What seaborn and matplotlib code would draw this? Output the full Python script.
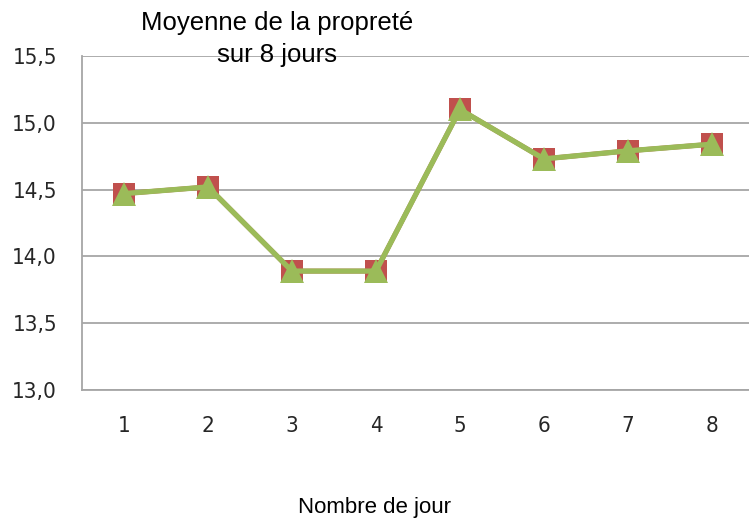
import pandas as pd
import seaborn as sns
import matplotlib.pyplot as plt
from matplotlib.ticker import FixedLocator

# données
jours = [1, 2, 3, 4, 5, 6, 7, 8]
proprete_a = [14.47, 14.52, 13.89, 13.89, 15.10, 14.73, 14.79, 14.84]
proprete_b = [14.47, 14.52, 13.89, 13.89, 15.10, 14.73, 14.79, 14.84]
y_ticks = [13.0, 13.5, 14.0, 14.5, 15.0, 15.5]

sns.set_style("white")
plt.rcParams["font.family"] = ["Liberation Sans", "DejaVu Sans"]

df = pd.DataFrame({"jour": jours, "a": proprete_a, "b": proprete_b})

fig = plt.figure(figsize=(7.49, 5.22), dpi=100)
ax = fig.add_axes([0.1095, 0.2529, 0.897, 0.6398])

grid_col = "#a6a6a6"
for y in y_ticks:
    ax.axhline(y, color=grid_col, lw=1.3, zorder=0)

sns.lineplot(data=df, x="jour", y="a", ax=ax, color="#c0504d", lw=3.5,
             marker="s", markersize=15.5, markeredgewidth=0, zorder=2)
sns.lineplot(data=df, x="jour", y="b", ax=ax, color="#9bbb59", lw=3.8,
             marker="^", markersize=17, markeredgewidth=0, zorder=3)

ax.set_xlim(0.5, 8.5)
ax.set_ylim(13.0, 15.5)
ax.set_xticks(jours)
ax.set_xticklabels([str(j) for j in jours])
ax.xaxis.set_minor_locator(FixedLocator([j - 0.5 for j in jours] + [8.5]))
ax.set_yticks(y_ticks)
ax.set_yticklabels([f"{v:.1f}".replace(".", ",") for v in y_ticks])

for lab in ax.get_xticklabels() + ax.get_yticklabels():
    lab.set_family("DejaVu Sans")
    lab.set_stretch("condensed")
    lab.set_fontsize(16)
    lab.set_color("#262626")

ax.tick_params(axis="x", which="major", length=0, pad=19)
ax.tick_params(axis="x", which="minor", length=7, color=grid_col, width=1.3)
ax.tick_params(axis="y", length=7, color=grid_col, width=1.3, pad=11)

for side in ["top", "right"]:
    ax.spines[side].set_visible(False)
for side in ["left", "bottom"]:
    ax.spines[side].set_color(grid_col)
    ax.spines[side].set_linewidth(1.3)

ax.set_xlabel("")
ax.set_ylabel("")

fig.text(0.37, 0.925, "Moyenne de la propreté\nsur 8 jours", ha="center", va="center",
         fontsize=18.5, linespacing=1.4, color="black")
fig.text(0.5, 0.027, "Nombre de jour", ha="center", va="center", fontsize=16,
         color="black")

fig.savefig("out.png", dpi=100)
